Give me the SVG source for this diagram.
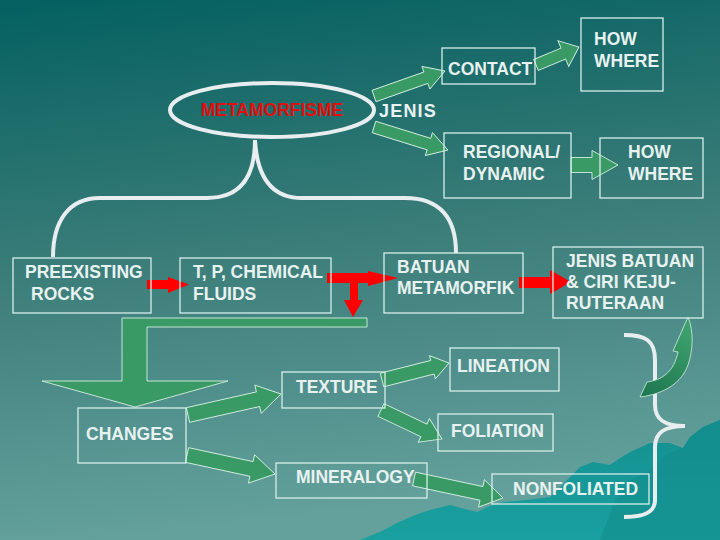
<svg xmlns="http://www.w3.org/2000/svg" width="720" height="540" viewBox="0 0 720 540">
<defs>
<linearGradient id="bg" x1="0" y1="0" x2="0.15" y2="1">
<stop offset="0" stop-color="#036060"/>
<stop offset="0.5" stop-color="#3b7d79"/>
<stop offset="1" stop-color="#64a19d"/>
</linearGradient>
<linearGradient id="mt" x1="0" y1="0" x2="0" y2="1">
<stop offset="0" stop-color="#149090"/>
<stop offset="1" stop-color="#1aa0a0"/>
</linearGradient>
<linearGradient id="curv" x1="0" y1="1" x2="0.3" y2="0">
<stop offset="0" stop-color="#1d7650"/>
<stop offset="1" stop-color="#3da06c"/>
</linearGradient>
</defs>
<style>
.box{fill:none;stroke:#d6eeea;stroke-width:1.3}
.t{font-family:"Liberation Sans",Arial,sans-serif;font-weight:bold;font-size:17.5px;fill:#e8f2f0}
.ga{fill:#399a66;stroke:#d4eee0;stroke-width:0.9}
.ra{fill:#ff0000}
.br{fill:none;stroke:#e8eef0;stroke-width:4;stroke-linecap:butt}
</style>
<rect width="720" height="540" fill="url(#bg)"/>
<path fill="url(#mt)" d="M360,540 L380,532 L397,523 L415,515 L430,510 L450,505 L465,509 L477,512 L490,506 L503,502 L527,500 L550,497 L560,488 L567,480 L580,467 L593,462 L610,465 L620,458 L630,452 L650,443 L670,443 L683,448 L690,437 L703,427 L720,420 L720,540 Z"/>
<path fill="#128a8a" opacity="0.5" d="M600,540 L615,500 L630,480 L650,470 L665,455 L683,448 L690,437 L703,427 L720,420 L720,540 Z"/>

<g id="connectors">
<path class="br" d="M255,140 C255,175 242,198 207,198 L100,198 C68,198 53,222 53,257"/>
<path class="br" d="M255,140 C257,175 270,198 302,198 L405,198 C440,198 456,218 456,253"/>
<path class="br" d="M624,335 C645,335 655,340 655,360 L655,405 C655,420 665,426 685,426 C665,426 655,432 655,447 L655,500 C655,512 645,517 624,517"/>
<path class="ga" transform="translate(374,96) rotate(-19.4)" d="M0,-6 L55,-6 L55,-12 L75.3,0 L55,12 L55,6 L0,6 Z"/>
<path class="ga" transform="translate(536,65) rotate(-22.7)" d="M0,-6 L29.6,-6 L29.6,-14 L46.6,0 L29.6,14 L29.6,6 L0,6 Z"/>
<path class="ga" transform="translate(374,127) rotate(17.3)" d="M0,-6 L57.5,-6 L57.5,-12 L77.5,0 L57.5,12 L57.5,6 L0,6 Z"/>
<path class="ga" transform="translate(571,165)" d="M0,-7.5 L21,-7.5 L21,-14.5 L47,0 L21,14.5 L21,7.5 L0,7.5 Z"/>
<path class="ga" d="M122,318 L367,318 L367,327 L147,327 L147,381 L228,381 L135,407 L42,381 L122,381 Z"/>
<path class="ga" transform="translate(188,415) rotate(-12.7)" d="M0,-7.5 L71.8,-7.5 L71.8,-14.5 L95.3,0 L71.8,14.5 L71.8,7.5 L0,7.5 Z"/>
<path class="ga" transform="translate(187,455) rotate(12.2)" d="M0,-7.5 L66,-7.5 L66,-14.5 L90,0 L66,14.5 L66,7.5 L0,7.5 Z"/>
<path class="ga" transform="translate(382,380) rotate(-14.2)" d="M0,-7 L52,-7 L52,-12 L69.1,0 L52,12 L52,7 L0,7 Z"/>
<path class="ga" transform="translate(381,410) rotate(25.4)" d="M0,-7 L47.5,-7 L47.5,-13 L67.5,0 L47.5,13 L47.5,7 L0,7 Z"/>
<path class="ga" transform="translate(414,479) rotate(12.05)" d="M0,-7 L69,-7 L69,-14 L91,0 L69,14 L69,7 L0,7 Z"/>
<path d="M640,397 L647,382 C662,380 674,372 678,352 L673,351 L688,317 C694,332 693,350 688,365 C682,382 665,394 640,397 Z" fill="url(#curv)" stroke="#d4eee0" stroke-width="0.8"/>
<path class="ra" d="M147,280 L168,280 L168,277 L189,284.5 L168,293 L168,289 L147,289 Z"/>
<path class="ra" d="M327,273 L368,273 L368,271 L398,278 L368,286 L368,283 L358,283 L358,300 L363,300 L353,317 L344,300 L350,300 L350,283 L327,283 Z"/>
<path class="ra" d="M519,277 L550,277 L550,270 L571,282 L550,294 L550,288 L519,288 Z"/>
</g>

<g id="metamorfisme">
<ellipse cx="272" cy="110" rx="102" ry="27" fill="none" stroke="#e8eef0" stroke-width="4"/>
<text class="t" x="272" y="116" text-anchor="middle" fill="#e01010" style="fill:#e01010">METAMORFISME</text>
</g>
<g id="jenis"><text class="t" x="379" y="117" style="font-size:18px;letter-spacing:1.2px">JENIS</text></g>
<g id="contact"><rect class="box" x="442" y="48" width="93" height="36"/><text class="t" x="448" y="75">CONTACT</text></g>
<g id="howwhere1"><rect class="box" x="581" y="18" width="82" height="73"/><text class="t" x="594" y="45">HOW</text><text class="t" x="594" y="67">WHERE</text></g>
<g id="regional"><rect class="box" x="444" y="133" width="127" height="65"/><text class="t" x="463" y="158">REGIONAL/</text><text class="t" x="463" y="180">DYNAMIC</text></g>
<g id="howwhere2"><rect class="box" x="600" y="138" width="103" height="60"/><text class="t" x="628" y="158">HOW</text><text class="t" x="628" y="180">WHERE</text></g>
<g id="preexisting"><rect class="box" x="13" y="258" width="138" height="55"/><text class="t" x="25" y="278">PREEXISTING</text><text class="t" x="31" y="300">ROCKS</text></g>
<g id="tp"><rect class="box" x="180" y="258" width="151" height="55"/><text class="t" x="193" y="278">T, P, CHEMICAL</text><text class="t" x="193" y="300">FLUIDS</text></g>
<g id="batuan"><rect class="box" x="384" y="253" width="139" height="60"/><text class="t" x="397" y="273">BATUAN</text><text class="t" x="397" y="294">METAMORFIK</text></g>
<g id="jenisbatuan"><rect class="box" x="553" y="247" width="150" height="71"/><text class="t" x="566" y="267">JENIS BATUAN</text><text class="t" x="566" y="288">&amp; CIRI KEJU-</text><text class="t" x="566" y="309">RUTERAAN</text></g>
<g id="changes"><rect class="box" x="78" y="408" width="108" height="55"/><text class="t" x="86" y="440">CHANGES</text></g>
<g id="texture"><rect class="box" x="282" y="372" width="103" height="36"/><text class="t" x="296" y="393">TEXTURE</text></g>
<g id="mineralogy"><rect class="box" x="276" y="463" width="151" height="35"/><text class="t" x="296" y="483">MINERALOGY</text></g>
<g id="lineation"><rect class="box" x="450" y="348" width="109" height="43"/><text class="t" x="457" y="372">LINEATION</text></g>
<g id="foliation"><rect class="box" x="438" y="414" width="115" height="37"/><text class="t" x="451" y="437">FOLIATION</text></g>
<g id="nonfoliated"><rect class="box" x="492" y="474" width="157" height="30"/><text class="t" x="513" y="495">NONFOLIATED</text></g>
</svg>
